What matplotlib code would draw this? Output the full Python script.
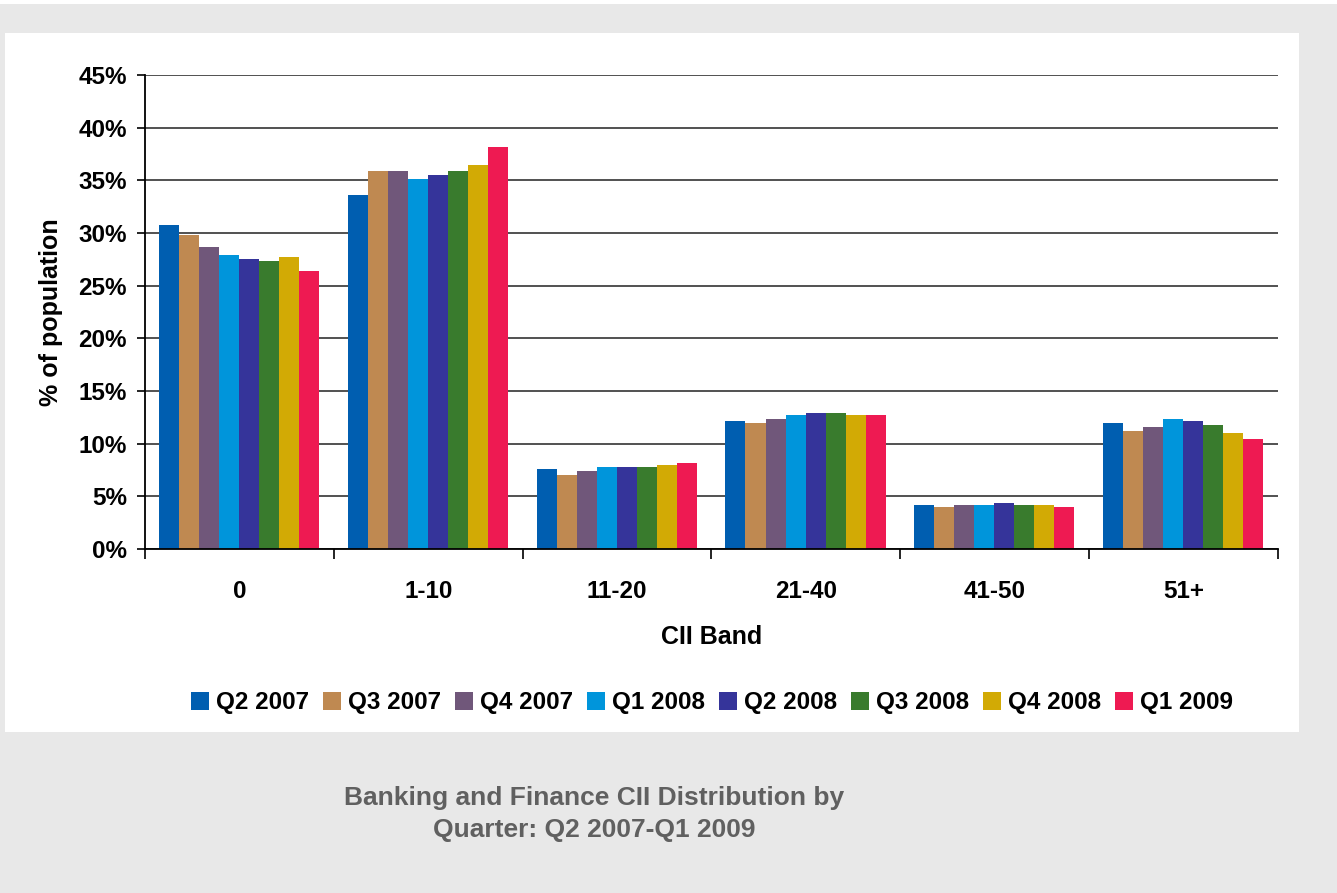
import numpy as np
import matplotlib
matplotlib.use('Agg')
import matplotlib.pyplot as plt
from matplotlib.patches import Rectangle

# CII bands and quarters
bands = ['0', '1-10', '11-20', '21-40', '41-50', '51+']
quarters = ['Q2 2007', 'Q3 2007', 'Q4 2007', 'Q1 2008',
            'Q2 2008', 'Q3 2008', 'Q4 2008', 'Q1 2009']
colors = ['#005EB0', '#BF8951', '#70577A', '#0095DB',
          '#35349A', '#397B2D', '#D2AA05', '#EE1A52']

# % of population per band, one list per quarter
q2_2007 = [30.8, 33.6, 7.6, 12.15, 4.2, 12.0]
q3_2007 = [29.8, 35.9, 7.0, 11.95, 4.0, 11.2]
q4_2007 = [28.7, 35.9, 7.4, 12.35, 4.2, 11.6]
q1_2008 = [27.9, 35.1, 7.8, 12.7, 4.2, 12.35]
q2_2008 = [27.5, 35.5, 7.8, 12.9, 4.4, 12.15]
q3_2008 = [27.35, 35.9, 7.8, 12.9, 4.2, 11.8]
q4_2008 = [27.7, 36.5, 8.0, 12.7, 4.2, 11.0]
q1_2009 = [26.4, 38.2, 8.2, 12.7, 4.0, 10.45]
series = [q2_2007, q3_2007, q4_2007, q1_2008, q2_2008, q3_2008, q4_2008, q1_2009]

plt.rcParams['font.family'] = ['Liberation Sans', 'DejaVu Sans']
plt.rcParams['font.weight'] = 'bold'

fig = plt.figure(figsize=(13.37, 8.93), dpi=100, facecolor='#E8E8E8')
# white panel behind the chart and a thin white strip on top
fig.patches.append(Rectangle((5 / 1337, 1 - 732 / 893), 1294 / 1337, 699 / 893,
                             transform=fig.transFigure, facecolor='white',
                             edgecolor='none', zorder=-5))
fig.patches.append(Rectangle((0, 1 - 4 / 893), 1, 4 / 893,
                             transform=fig.transFigure, facecolor='white',
                             edgecolor='none', zorder=-5))

ax = fig.add_axes([145 / 1337, 1 - 549 / 893, 1133 / 1337, 474 / 893])
ax.set_facecolor('none')

x = np.arange(len(bands))
w = 0.106
for i, vals in enumerate(series):
    ax.bar(x - 0.426 + w * (i + 0.5), vals, width=w, color=colors[i],
           label=quarters[i], zorder=3)

ax.set_xlim(-0.5, len(bands) - 0.5)
ax.set_ylim(0, 45)
ax.set_yticks(np.arange(0, 46, 5))
ax.set_yticklabels(['%d%%' % v for v in range(0, 46, 5)])
ax.yaxis.grid(True, color='#333333', linewidth=1.2, zorder=1)

ax.set_xticks(x)
ax.set_xticklabels(bands)
ax.set_xticks(np.arange(-0.5, len(bands)), minor=True)
ax.tick_params(axis='x', which='major', length=0, pad=22, labelsize=17.5)
ax.tick_params(axis='x', which='minor', length=7, width=1.2, direction='out')
ax.tick_params(axis='y', length=6, width=1.2, pad=7, labelsize=17.5)

for s in ['top', 'right']:
    ax.spines[s].set_visible(False)
for s in ['left', 'bottom']:
    ax.spines[s].set_linewidth(1.3)
    ax.spines[s].set_zorder(4)

ax.set_xlabel('CII Band', fontsize=18, fontweight='bold', labelpad=16)
ax.set_ylabel('% of population', fontsize=18, fontweight='bold', labelpad=11)

fig.legend(loc='center', bbox_to_anchor=(712 / 1337, 1 - 703 / 893), ncol=8,
           frameon=False, fontsize=17.5, handlelength=0.75, handleheight=0.75,
           handletextpad=0.3, columnspacing=0.55)

fig.text(594 / 1337, 1 - 814 / 893,
         'Banking and Finance CII Distribution by\nQuarter: Q2 2007-Q1 2009',
         ha='center', va='center', fontsize=19, fontweight='bold',
         color='#606060', linespacing=1.42)

fig.savefig('out.png', dpi=100, facecolor=fig.get_facecolor())
